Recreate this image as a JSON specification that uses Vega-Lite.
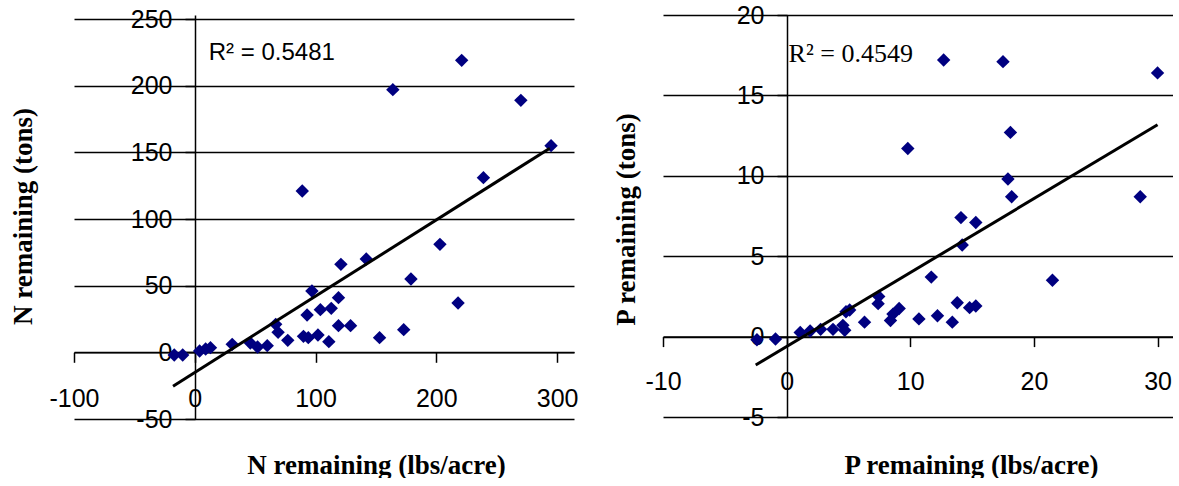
{
  "$schema": "https://vega.github.io/schema/vega-lite/v6.json",
  "background": "white",
  "padding": {"left": 8, "top": 3, "right": 0, "bottom": 0},
  "bounds": "flush",
  "spacing": 89,
  "config": {
    "view": {"stroke": null},
    "axis": {
      "domainColor": "black", "domainWidth": 1.5,
      "tickColor": "black", "tickWidth": 1.5, "tickSize": 10,
      "labelFont": "Liberation Sans", "labelFontSize": 25, "labelColor": "black",
      "labelFlush": false, "labelOverlap": false, "labelExpr": "'' + datum.value",
      "gridColor": "black", "gridWidth": 1.5, "gridOpacity": 1,
      "titleFont": "Liberation Serif", "titleFontSize": 27, "titleFontWeight": "bold", "titleColor": "black",
      "titleBaseline": "middle", "titleAlign": "center"
    },
    "axisX": {"grid": false},
    "axisY": {"grid": true, "labelPadding": 13, "titleAngle": -90}
  },
  "datasets": {
    "n_points": [
      {"x": -17, "y": -2}, {"x": -10, "y": -2}, {"x": 4, "y": 1}, {"x": 9, "y": 2.5}, {"x": 13, "y": 3.5},
      {"x": 31, "y": 6}, {"x": 46, "y": 7}, {"x": 52, "y": 4}, {"x": 60, "y": 5}, {"x": 67, "y": 21},
      {"x": 69, "y": 15}, {"x": 77, "y": 9}, {"x": 90, "y": 12}, {"x": 94, "y": 11}, {"x": 102, "y": 13},
      {"x": 111, "y": 8}, {"x": 93, "y": 28}, {"x": 104, "y": 32}, {"x": 113, "y": 33}, {"x": 119, "y": 41},
      {"x": 97, "y": 46}, {"x": 119, "y": 20}, {"x": 129, "y": 20}, {"x": 153, "y": 11}, {"x": 173, "y": 17},
      {"x": 179, "y": 55}, {"x": 121, "y": 66}, {"x": 142, "y": 70}, {"x": 203, "y": 81}, {"x": 218, "y": 37},
      {"x": 89, "y": 121}, {"x": 164, "y": 197}, {"x": 221, "y": 219}, {"x": 270, "y": 189}, {"x": 295, "y": 155},
      {"x": 239, "y": 131}
    ],
    "n_line": [{"x": -18, "y": -25.4}, {"x": 294, "y": 153.1}],
    "n_label": [{"x": 11.6, "y": 219, "t": "R² = 0.5481"}],
    "p_points": [
      {"x": -2.4, "y": -0.2}, {"x": -0.9, "y": -0.15}, {"x": 1.1, "y": 0.25}, {"x": 1.9, "y": 0.35}, {"x": 2.75, "y": 0.45},
      {"x": 3.75, "y": 0.45}, {"x": 4.55, "y": 0.7}, {"x": 4.7, "y": 0.4}, {"x": 4.8, "y": 1.55}, {"x": 5.1, "y": 1.65},
      {"x": 6.3, "y": 0.9}, {"x": 7.45, "y": 2.5}, {"x": 7.4, "y": 2.05}, {"x": 8.4, "y": 1.0}, {"x": 8.6, "y": 1.4},
      {"x": 9.1, "y": 1.75}, {"x": 10.7, "y": 1.1}, {"x": 12.2, "y": 1.3}, {"x": 13.4, "y": 0.9}, {"x": 13.8, "y": 2.1},
      {"x": 14.8, "y": 1.8}, {"x": 15.3, "y": 1.9}, {"x": 11.7, "y": 3.7}, {"x": 21.5, "y": 3.5}, {"x": 14.2, "y": 5.7},
      {"x": 14.1, "y": 7.4}, {"x": 15.3, "y": 7.1}, {"x": 18.2, "y": 8.7}, {"x": 28.6, "y": 8.7}, {"x": 17.9, "y": 9.8},
      {"x": 9.8, "y": 11.7}, {"x": 18.1, "y": 12.7}, {"x": 12.7, "y": 17.2}, {"x": 17.5, "y": 17.1}, {"x": 30.0, "y": 16.4}
    ],
    "p_line": [{"x": -2.5, "y": -1.77}, {"x": 30, "y": 13.18}],
    "p_label": [{"x": 0.16, "y": 17.08, "t": "R² = 0.4549"}]
  },
  "hconcat": [
    {
      "width": 500,
      "height": 404,
      "encoding": {
        "x": {"field": "x", "type": "quantitative",
          "scale": {"domain": [-100, 314], "nice": false, "zero": false},
          "axis": {"title": "N remaining (lbs/acre)", "values": [-100, 0, 100, 200, 300], "offset": -66.7,
            "labelPadding": 24, "titleX": 302, "titleY": 112.7}},
        "y": {"field": "y", "type": "quantitative",
          "scale": {"domain": [-50, 253], "nice": false, "zero": false},
          "axis": {"title": "N remaining (tons)", "values": [-50, 0, 50, 100, 150, 200, 250], "offset": -121,
            "titleX": -172, "titleY": 201}}
      },
      "layer": [
        {
          "data": {"name": "n_points"},
          "mark": {"type": "point", "shape": "diamond", "filled": true, "color": "#000080", "size": 180, "opacity": 1}
        },
        {
          "data": {"name": "n_line"},
          "mark": {"type": "line", "color": "black", "strokeWidth": 3}
        },
        {
          "data": {"name": "n_label"},
          "mark": {"type": "text", "font": "Liberation Sans", "fontSize": 24, "color": "black", "align": "left", "baseline": "alphabetic"},
          "encoding": {"text": {"field": "t"}}
        }
      ]
    },
    {
      "width": 510,
      "height": 402,
      "encoding": {
        "x": {"field": "x", "type": "quantitative",
          "scale": {"domain": [-10, 31.25], "nice": false, "zero": false},
          "axis": {"title": "P remaining (lbs/acre)", "values": [-10, 0, 10, 20, 30], "offset": -80.4,
            "labelPadding": 23, "titleX": 308, "titleY": 128.4}},
        "y": {"field": "y", "type": "quantitative",
          "scale": {"domain": [-5, 20], "nice": false, "zero": false},
          "axis": {"title": "P remaining (tons)", "values": [-5, 0, 5, 10, 15, 20], "offset": -124,
            "titleX": -161, "titleY": 204}}
      },
      "layer": [
        {
          "data": {"name": "p_points"},
          "mark": {"type": "point", "shape": "diamond", "filled": true, "color": "#000080", "size": 180, "opacity": 1}
        },
        {
          "data": {"name": "p_line"},
          "mark": {"type": "line", "color": "black", "strokeWidth": 3}
        },
        {
          "data": {"name": "p_label"},
          "mark": {"type": "text", "font": "Liberation Serif", "fontSize": 26, "color": "black", "align": "left", "baseline": "alphabetic"},
          "encoding": {"text": {"field": "t"}}
        }
      ]
    }
  ]
}
